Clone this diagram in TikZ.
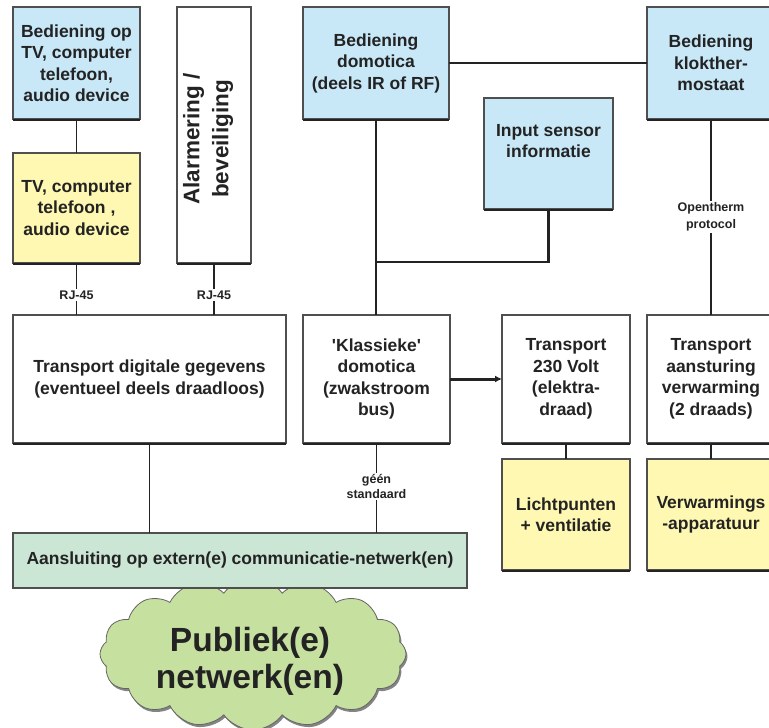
\documentclass[tikz,border=0pt]{standalone}
\usepackage{fontspec}
\setmainfont{Liberation Sans}
\usetikzlibrary{shapes.symbols,arrows.meta,shadows}
\definecolor{bblue}{RGB}{200,232,248}
\definecolor{byellow}{RGB}{255,248,178}
\definecolor{bgreen}{RGB}{204,230,214}
\definecolor{cgreen}{RGB}{198,224,160}
\definecolor{ink}{RGB}{35,35,35}
\begin{document}
\begin{tikzpicture}[x=1pt,y=-1pt,
  box/.style={draw=ink!80, line width=1.1pt, inner sep=2pt, outer sep=0pt, align=center,
    font=\fontsize{17.5}{21.5}\selectfont\bfseries, text=ink},
  conn/.style={draw=ink, line width=1.8pt},
  lbl/.style={fill=white, inner sep=1.5pt, align=center, text=ink,
    font=\fontsize{12.5}{15}\selectfont\bfseries},
  shadowline/.style={draw=ink, line width=2.6pt}
]
\useasboundingbox (0,0) rectangle (769,728);

% cloud (behind the green box)
\node[cloud, cloud puffs=16, cloud puff arc=110, aspect=2, draw=ink!70, line width=0.8pt,
  fill=cgreen, minimum width=306pt, minimum height=152pt, inner sep=0pt,
  drop shadow={shadow xshift=1.5pt, shadow yshift=-2.5pt, fill=ink!70, opacity=0.8}]
  (cloud) at (253,654) {};
\node[align=center, font=\fontsize{33.5}{37}\selectfont\bfseries, text=ink]
  (cloudtxt) at (250,661) {Publiek(e)\\netwerk(en)};

% boxes
\node[box, fill=bblue, minimum width=127pt, minimum height=112pt] (bedtv) at (76.5,63)
  {Bediening op\\TV, computer\\telefoon,\\audio device};
\node[box, fill=byellow, minimum width=127pt, minimum height=110pt] (tv) at (76.5,208)
  {TV, computer\\telefoon ,\\audio device};
\node[box, fill=white, minimum width=74pt, minimum height=256pt] (alarm) at (214,135) {};
\node[rotate=90, align=center, font=\fontsize{22.5}{29}\selectfont\bfseries, text=ink]
  (alarmtxt) at (208,139) {Alarmering /\\beveiliging};
\node[box, fill=bblue, minimum width=146pt, minimum height=112pt] (domo) at (376,63)
  {Bediening\\domotica\\(deels IR of RF)};
\node[box, fill=bblue, minimum width=128pt, minimum height=112pt] (klok) at (711,63)
  {Bediening\\klokther-\\mostaat};
\node[box, fill=bblue, minimum width=129pt, minimum height=111pt] (input) at (548.5,153.5)
  {Input sensor\\informatie\\[4pt]};
\node[box, fill=white, minimum width=273pt, minimum height=128pt] (trans) at (149.5,379)
  {Transport digitale gegevens\\(eventueel deels draadloos)};
\node[box, fill=white, minimum width=147pt, minimum height=128pt] (klas) at (376.5,379)
  {\textquotesingle Klassieke\textquotesingle\\domotica\\(zwakstroom\\bus)};
\node[box, fill=white, minimum width=128pt, minimum height=128pt] (volt) at (566,379)
  {Transport\\230 Volt\\(elektra-\\draad)};
\node[box, fill=white, minimum width=128pt, minimum height=128pt] (aanst) at (711,379)
  {Transport\\aansturing\\verwarming\\(2 draads)};
\node[box, fill=byellow, minimum width=128pt, minimum height=111pt] (licht) at (566,514.5)
  {Lichtpunten\\+ ventilatie};
\node[box, fill=byellow, minimum width=128pt, minimum height=111pt] (verw) at (711,514.5)
  {Verwarmings\\-apparatuur};
\node[box, fill=bgreen, minimum width=454pt, minimum height=55pt] (aansl) at (240,560.5)
  {Aansluiting op extern(e) communicatie-netwerk(en)};

% heavy bottom edges (shadow look)
\foreach \n in {bedtv,tv,alarm,domo,klok,input,trans,klas,volt,aanst,licht,verw}
  \draw[shadowline] ([yshift=-0.9pt]\n.south west) -- ([yshift=-0.9pt]\n.south east);

% connectors
\draw[conn] (bedtv) -- (tv);
\draw[conn] (tv.south) -- node[lbl, pos=0.62] (rj1) {RJ-45} (tv.south |- trans.north);
\draw[conn] (alarm.south) -- node[lbl, pos=0.62] (rj2) {RJ-45} (alarm.south |- trans.north);
\draw[conn] (domo.east) -- (klok.west);
\draw[conn] (domo.south) -- (domo.south |- klas.north);
\coordinate (junc) at (domo.south |- 0,262);
\draw[conn, line width=2.6pt] (input.south) |- (junc);
\draw[conn] (klok.south) -- node[lbl, pos=0.5, font=\fontsize{12.5}{16.5}\selectfont\bfseries] (ot) {Opentherm\\protocol} (aanst.north);
\draw[conn] (trans.south) -- (trans.south |- aansl.north);
\draw[conn] (klas.south) -- node[lbl, pos=0.48] (geen) {géén\\standaard} (klas.south |- aansl.north);
\draw[conn, line width=3pt, -{Latex[length=7pt,width=7pt]}] (klas.east) -- (volt.west);
\draw[conn] (volt.south) -- (licht.north);
\draw[conn] (aanst.south) -- (verw.north);
\end{tikzpicture}
\end{document}
